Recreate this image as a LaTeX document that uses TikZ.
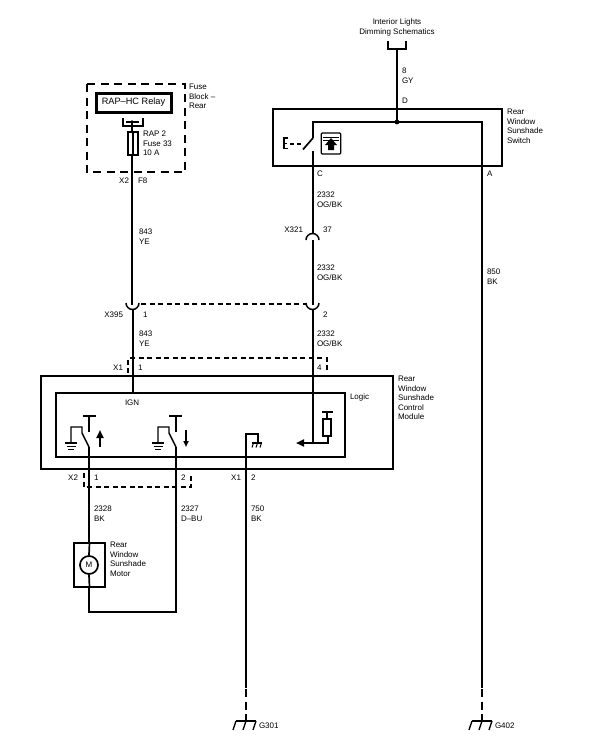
\documentclass[tikz,border=0pt]{standalone}
\usepackage{fontspec}
\setmainfont{Liberation Sans}
\usetikzlibrary{arrows.meta}
\tikzset{
  lbl/.style={inner sep=0pt,outer sep=0pt,anchor=north west,align=left,font=\fontsize{8}{9.5}\selectfont},
  lblr/.style={lbl,anchor=north east,align=right},
  lblc/.style={lbl,anchor=north,align=center},
  wire/.style={line width=2pt,line cap=butt,line join=miter},
  thinwire/.style={line width=1.4pt,line join=miter},
  box/.style={draw,line width=1.7pt,inner sep=0pt,outer sep=0pt,anchor=north west},
  dashline/.style={line width=1.7pt,dash pattern=on 5pt off 3.5pt},
  bigdash/.style={line width=2pt,dash pattern=on 8pt off 5.5pt},
  gwire/.style={line width=2pt,dash pattern=on 8pt off 4.5pt},
  arrowtip/.style={-{Triangle[length=8pt,width=7pt]}},
}
\newcommand{\gndsym}[1]{% earth symbol under a wire end
  \draw[line width=1.3pt] ([xshift=-6pt]#1) -- ([xshift=6pt]#1);
  \draw[line width=1.2pt] ([xshift=-4.5pt,yshift=-3.5pt]#1) -- ([xshift=4.5pt,yshift=-3.5pt]#1);
  \draw[line width=1.1pt] ([xshift=-3pt,yshift=-6.5pt]#1) -- ([xshift=3pt,yshift=-6.5pt]#1);
}
\newcommand{\chassis}[1]{% chassis ground at a named coordinate
  \draw[line width=1.3pt] ([xshift=-10pt]#1) -- ([xshift=10pt]#1);
  \draw[line width=1.3pt] ([xshift=-10pt]#1) -- ([xshift=-13pt,yshift=-9pt]#1);
  \draw[line width=1.3pt] (#1) -- ([xshift=-3pt,yshift=-9pt]#1);
  \draw[line width=1.3pt] ([xshift=10pt]#1) -- ([xshift=7pt,yshift=-9pt]#1);
}
\begin{document}
\begin{tikzpicture}[x=1pt,y=-1pt]
\useasboundingbox (0,0) rectangle (600,752);
% ---------- boxes
\node[box,line width=3pt,minimum width=75pt,minimum height=19pt,font=\fontsize{9.2}{12}\selectfont] (relay) at (96,93) {RAP–HC Relay};
\node[box,minimum width=229pt,minimum height=57pt,line width=1.4pt] (switchbox) at (273,109) {};
\node[box,minimum width=352pt,minimum height=93pt] (outer) at (41,376) {};
\node[box,minimum width=289pt,minimum height=64pt] (inner) at (56,393) {};
\node[box,minimum width=31pt,minimum height=44pt] (motorbox) at (74,543) {};
\node[draw,circle,line width=1.7pt,fill=white,minimum size=18pt,inner sep=0pt] (motor) at (89,565) {};
% ---------- fuse block
\draw[bigdash] (86.5,84) rectangle (185,172);
\coordinate (fbar) at (132,122);
\draw[thinwire] (123,118) -- (123,126) -- (143,126) -- (143,118);
\draw[line width=1.4pt] (126,122) -- (139,122);
\draw[wire] (fbar) -- (132,305);
\fill (fbar) circle (1.8pt);
\node[draw,line width=1.2pt,fill=white,minimum width=10pt,minimum height=23pt,inner sep=0pt] (fuse) at (133,143.5) {};
\draw[line width=1.4pt] (fuse.north) -- (fuse.south);
% ---------- top connector and switch
\coordinate (topc) at (397,49);
\coordinate (topj) at (397,122);
\draw[thinwire] (388,41) -- (388,49) -- (406,49) -- (406,41);
\draw[wire] (topc) -- (topj);
\coordinate (swtop) at (313,138);
\coordinate (swbot) at (313,151);
\coordinate (aright) at (482,122);
\draw[wire] (swtop) -- (313,122) -- (aright) -- (482,688);
\fill (topj) circle (2.4pt);
\draw[line width=1.7pt] (303,149.5) -- (swtop);
\draw[line width=1.5pt,dash pattern=on 4pt off 3pt] (301,144) -- (290,144);
\draw[line width=1.6pt] (288,138) -- (284,138) -- (284,148.5) -- (288,148.5);
\draw[line width=1.4pt] (284,143.2) -- (287,143.2);
\draw[wire] (swbot) -- (313,234);
\node[draw,line width=1.3pt,rounded corners=1pt,minimum width=19.5pt,minimum height=21pt,inner sep=0pt] (icon) at (331,143.5) {};
\draw[line width=0.9pt] (323,137) -- (339,137) (323,140) -- (339,140);
\fill (331,138) -- (337,145) -- (334,145) -- (334,150) -- (328,150) -- (328,145) -- (325,145) -- cycle;
% ---------- inline connectors
\draw[line width=1.5pt] (306,240) arc[start angle=180,end angle=0,radius=6.5pt];
\draw[wire] (312.5,240) -- (312.5,305);
\draw[line width=1.5pt] (126,303) arc[start angle=180,end angle=360,radius=6.5pt];
\draw[line width=1.5pt] (306,303) arc[start angle=180,end angle=360,radius=6.5pt];
\draw[dashline] (141,304) -- (306,304);
\draw[wire] (132.5,310) -- (132.5,393);
\draw[wire] (312.5,310) -- (312.5,443);
% ---------- X1 / X2 dashed groups
\draw[dashline] (128,373) -- (128,358) -- (327,358) -- (327,373);
\draw[dashline] (84,473) -- (84,487) -- (191,487) -- (191,473);
% ---------- module contents
\coordinate (g1) at (71,443);
\coordinate (g2) at (158,443);
\draw[thinwire] (g1) -- (71,427) -- (82,427) -- (82,433) -- (89,447);
\draw[thinwire] (g2) -- (158,427) -- (169,427) -- (169,433) -- (176,447);
\gndsym{g1}
\gndsym{g2}
\draw[wire] (89,447) -- (89,543);
\draw[wire] (176,447) -- (176,612) -- (89,612) -- (89,587);
\draw[line width=1.7pt] (motorbox.north) -- (motor.north) (motor.south) -- (motorbox.south);
\node[inner sep=0pt,font=\fontsize{8}{9}\selectfont] (mlabel) at (89,565) {M};
\draw[thinwire] (89,432) -- (89,416) (83,416) -- (96,416);
\draw[thinwire] (176,432) -- (176,416) (169,416) -- (182,416);
\draw[line width=2pt,arrowtip] (100,447) -- (100,430);
\draw[line width=1.5pt,-{Triangle[length=6pt,width=5pt]}] (186,430) -- (186,447);
% logic
\draw[line width=2pt,arrowtip] (312,443) -- (296,443);
\draw[thinwire] (312,443) -- (328,443) -- (328,436);
\node[draw,line width=1.3pt,minimum width=8pt,minimum height=17pt,inner sep=0pt] (res) at (327,427.5) {};
\draw[thinwire] (res.north) -- (327,412) (322,412) -- (333,412);
% ground of module
\coordinate (cg) at (257,443);
\draw[wire] (246,688) -- (246,434) -- (258,434) -- (258,442);
\draw[line width=1.4pt] (252,443) -- (262,443);
\draw[line width=1pt] (253.5,443) -- (252,447.5) (257.5,443) -- (256,447.5) (261.5,443) -- (260,447.5);
% ---------- grounds
\coordinate (g301) at (246,721);
\coordinate (g402) at (482,721);
\draw[gwire] (246,689) -- (246,717);
\draw[gwire] (482,689) -- (482,717);
\draw[line width=1.3pt] (246,716) -- (g301);
\draw[line width=1.3pt] (482,716) -- (g402);
\chassis{g301}
\chassis{g402}
% ---------- labels
\node[lblc] (t1) at (397,19) {Interior Lights\\Dimming Schematics};
\node[lbl] (t2) at (402,68) {8\\GY};
\node[lbl] (t3) at (402,98) {D};
\node[lbl] (t4) at (507,109) {Rear\\Window\\Sunshade\\Switch};
\node[lbl] (t5) at (317,171) {C};
\node[lbl] (t6) at (487,171) {A};
\node[lbl] (t7) at (317,192) {2332\\OG/BK};
\node[lblr] (t8) at (303,227) {X321};
\node[lbl] (t9) at (323,227) {37};
\node[lbl] (t10) at (317,265) {2332\\OG/BK};
\node[lbl] (t11) at (139,229) {843\\YE};
\node[lbl] (t12) at (487,269) {850\\BK};
\node[lblr] (t13) at (123,312) {X395};
\node[lbl] (t14) at (143,312) {1};
\node[lbl] (t15) at (323,312) {2};
\node[lbl] (t16) at (139,331) {843\\YE};
\node[lbl] (t17) at (317,331) {2332\\OG/BK};
\node[lblr] (t18) at (123,365) {X1};
\node[lbl] (t19) at (138,365) {1};
\node[lbl] (t20) at (317,365) {4};
\node[lbl] (t21) at (398,376) {Rear\\Window\\Sunshade\\Control\\Module};
\node[lbl] (t22) at (350,394) {Logic};
\node[lbl] (t23) at (125,400) {IGN};
\node[lblr] (t24) at (78,475) {X2};
\node[lbl] (t25) at (94,475) {1};
\node[lbl] (t26) at (181,475) {2};
\node[lblr] (t27) at (241,475) {X1};
\node[lbl] (t28) at (251,475) {2};
\node[lbl] (t29) at (94,506) {2328\\BK};
\node[lbl] (t30) at (181,506) {2327\\D–BU};
\node[lbl] (t31) at (251,506) {750\\BK};
\node[lbl] (t32) at (110,542) {Rear\\Window\\Sunshade\\Motor};
\node[lbl] (t33) at (189,84) {Fuse\\Block –\\Rear};
\node[lbl] (t34) at (143,131) {RAP 2\\Fuse 33\\10 A};
\node[lblr] (t35) at (129,178) {X2};
\node[lbl] (t36) at (138,178) {F8};
\node[lbl] (t37) at (259,723) {G301};
\node[lbl] (t38) at (495,723) {G402};
\end{tikzpicture}
\end{document}
